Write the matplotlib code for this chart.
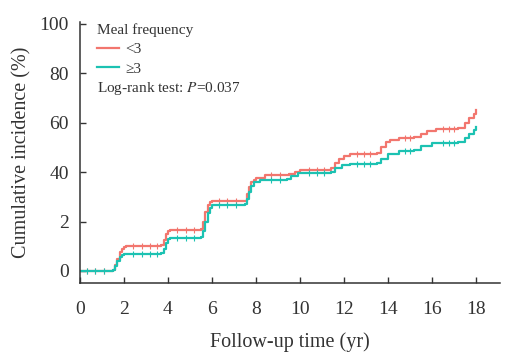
import matplotlib
matplotlib.use("Agg")
import matplotlib.pyplot as plt
from matplotlib.lines import Line2D
import numpy as np

plt.rcParams['font.family'] = ['Liberation Serif', 'DejaVu Serif']
plt.rcParams['mathtext.fontset'] = 'stix'

# cumulative incidence (%), meal frequency <3
t_lo = [0, 1.5, 1.6, 1.7, 1.8, 1.9, 2.0, 2.1, 3.7, 3.8, 3.9, 4.0, 4.1, 5.5, 5.6, 5.7, 5.8, 5.9, 6.0,
        7.5, 7.6, 7.7, 7.8, 7.9, 8.0, 8.4, 9.5, 9.8, 10.0, 11.4, 11.6, 11.8, 12.0, 12.3,
        13.5, 13.7, 13.9, 14.1, 14.5, 15.2, 15.5, 15.8, 16.2, 17.2, 17.5, 17.7, 17.9, 18.0]
ci_lo = [0, 0.5, 2.5, 5, 7.5, 9, 9.8, 10.1, 10.4, 12.5, 15, 16.2, 16.6, 17, 20, 24, 26.5, 27.8, 28.3,
         28.5, 31, 34, 36, 37, 37.5, 39, 39.3, 40.2, 41, 41.5, 43.5, 45.5, 46.5, 47.4,
         47.8, 50, 52, 53, 53.8, 54.2, 55.5, 56.8, 57.6, 58, 60, 62, 63.5, 65]

# meal frequency >=3
t_hi = [0, 1.5, 1.6, 1.7, 1.8, 1.9, 2.0, 2.2, 3.7, 3.8, 3.9, 4.0, 4.1, 5.5, 5.6, 5.7, 5.8, 5.9, 6.0,
        7.5, 7.6, 7.7, 7.8, 7.9, 8.2, 9.4, 9.6, 9.9, 10.2, 11.4, 11.6, 11.9, 12.3,
        13.5, 13.7, 14.0, 14.5, 15.2, 15.5, 16.0, 17.2, 17.5, 17.7, 17.9, 18.0]
ci_hi = [0, 0.3, 2, 4, 5.5, 6.3, 6.7, 7.0, 7.2, 9, 11.5, 12.8, 13.4, 13.8, 16, 20, 23.5, 25.5, 26.6,
         27, 29, 32, 34.5, 36, 37, 37.3, 38.5, 39.5, 39.8, 40, 41.5, 42.8, 43.4,
         43.8, 45.5, 47.5, 48.5, 49, 50.5, 51.6, 52.2, 54, 55.5, 57, 58.3]

# censoring marks
cens_t = [0.3, 0.7, 1.1, 2.4, 2.8, 3.2, 3.5, 4.4, 4.8, 5.2, 6.3, 6.7, 7.1, 8.7, 9.1, 10.4, 10.8, 11.1,
          12.6, 12.9, 13.2, 14.8, 15.0, 16.5, 16.8, 17.0]

ytick_vals = [0, 20, 40, 60, 80, 100]
ytick_labels = ['0', '2', '40', '60', '80', '100']
xtick_vals = list(range(0, 20, 2))

c_lo = '#F2766E'
c_hi = '#1CC2B2'
txt = '#333333'

fig = plt.figure(figsize=(5.2, 3.64), dpi=100)
ax = fig.add_axes([0.1538, 0.2225, 0.8077, 0.7171])

def step_val(ts, vs, q):
    idx = np.searchsorted(ts, q, side='right') - 1
    return np.array(vs)[idx]

ax.plot(t_lo, ci_lo, drawstyle='steps-post', color=c_lo, lw=1.6)
ax.plot(t_hi, ci_hi, drawstyle='steps-post', color=c_hi, lw=1.6)
ax.plot(cens_t, step_val(t_lo, ci_lo, cens_t), ls='none', marker='|', ms=4, mew=0.8, color=c_lo)
ax.plot(cens_t, step_val(t_hi, ci_hi, cens_t), ls='none', marker='|', ms=4, mew=0.8, color=c_hi)

ax.set_xlim(0, 19.1)
ax.set_ylim(-4.9, 100.8)
ax.set_xticks(xtick_vals)
ax.set_yticks(ytick_vals)
ax.set_yticklabels(ytick_labels)
ax.tick_params(direction='in', length=4, width=1, colors=txt, labelsize=14, pad=8)
ax.tick_params(axis='x', pad=13)
for s in ['top', 'right']:
    ax.spines[s].set_visible(False)
for s in ['left', 'bottom']:
    ax.spines[s].set_color(txt)
    ax.spines[s].set_linewidth(1.1)

ax.set_xlabel('Follow-up time (yr)', fontsize=14.5, color=txt, labelpad=10)
ax.set_ylabel('Cumulative incidence (%)', fontsize=14.5, color=txt, labelpad=6)

handles = [Line2D([], [], color=c_lo, lw=1.6), Line2D([], [], color=c_hi, lw=1.6)]
leg = ax.legend(handles, ['<3', '\u22653'], title='Meal frequency', loc='upper left',
                bbox_to_anchor=(0.027, 1.017), frameon=False, fontsize=11, title_fontsize=11,
                handlelength=1.4, handletextpad=0.4, borderaxespad=0, labelspacing=0.35)
leg._legend_box.align = 'left'
for t in leg.get_texts():
    t.set_color(txt)
leg.get_title().set_color(txt)

ax.text(0.04, 0.747, 'Log-rank test: $\\mathit{P}$=0.037', transform=ax.transAxes,
        fontsize=11, color=txt, va='center', ha='left')

fig.savefig('out.png', dpi=100)
